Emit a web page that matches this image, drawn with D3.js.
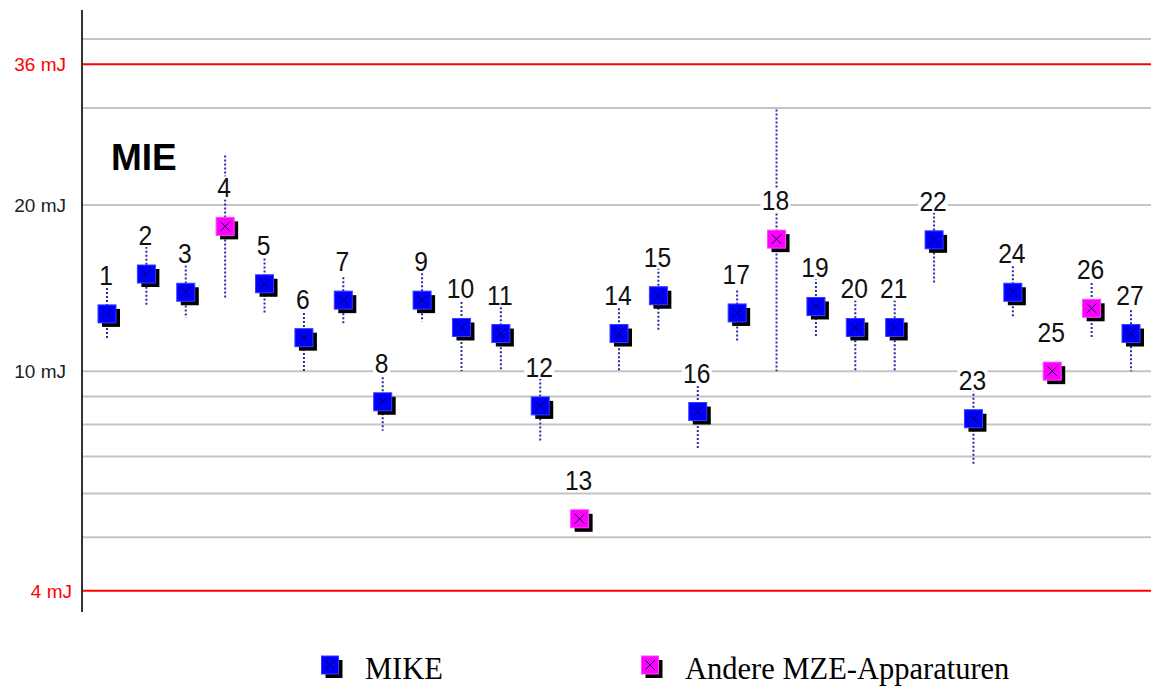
<!DOCTYPE html>
<html>
<head>
<meta charset="utf-8">
<script src="https://cdn.jsdelivr.net/npm/d3@7/dist/d3.min.js"></script>
<style>
  html, body { margin: 0; padding: 0; background: #fff; }
  svg { display: block; }
</style>
</head>
<body>
<svg id="chart" width="1151" height="686"></svg>
<script>
// ---- data ----
const categories = ["1","2","3","4","5","6","7","8","9","10","11","12","13","14","15","16","17","18","19","20","21","22","23","24","25","26","27"];
const mieValues = [12.7,15.0,13.9,18.3,14.4,11.5,13.45,8.8,13.45,12.0,11.7,8.65,5.4,11.7,13.7,8.45,12.75,17.35,13.1,12.0,12.0,17.3,8.2,13.9,10.0,13.0,11.7];
const lowValues = [11.4,13.2,12.5,13.6,12.75,10,12.2,7.8,12.3,10,10,7.45,null,10,11.8,7.25,11.35,10,11.5,10,10,14.45,6.75,12.5,null,11.5,10];
const highValues = [14.15,16.8,15.8,24.6,16.0,12.75,14.8,9.75,15.05,13.35,13.05,9.7,null,13.0,15.4,9.4,14.0,29.8,14.75,13.45,13.45,19.4,9.25,15.5,null,14.45,12.9];
const groups = ["MIKE","MIKE","MIKE","Andere","MIKE","MIKE","MIKE","MIKE","MIKE","MIKE","MIKE","MIKE","Andere","MIKE","MIKE","MIKE","MIKE","Andere","MIKE","MIKE","MIKE","MIKE","MIKE","MIKE","Andere","Andere","MIKE"];
const seriesNames = ["MIKE","Andere"];
const seriesLabels = ["MIKE","Andere MZE-Apparaturen"];
const seriesColors = ["#0000ff","#ff00ff"];
const gridValues = [5,6,7,8,9,10,20,30,40];
const limitValues = [4,36];
const tickValues = [4,10,20,36];
const tickLabels = ["4 mJ","10 mJ","20 mJ","36 mJ"];
const title = "MIE";

// ---- scales ----
const svg = d3.select("#chart");
const axisX = 82;
const x = d3.scalePoint().domain(categories).range([107, 1131]);
const y = d3.scaleLog().domain([4, 40]).range([590.7, 39]);
const color = d3.scaleOrdinal().domain(seriesNames).range(seriesColors);

const data = categories.map((c, i) => ({
  id: c, v: mieValues[i], lo: lowValues[i], hi: highValues[i], g: groups[i]
}));

// gridlines
svg.append("g").selectAll("line").data(gridValues).join("line")
  .attr("x1", axisX).attr("x2", 1151)
  .attr("y1", d => y(d)).attr("y2", d => y(d))
  .attr("stroke", "#c4c4c4").attr("stroke-width", 2);

// limit lines
svg.append("g").selectAll("line").data(limitValues).join("line")
  .attr("x1", axisX).attr("x2", 1151)
  .attr("y1", d => y(d)).attr("y2", d => y(d))
  .attr("stroke", "#ff0000").attr("stroke-width", 2);

// y axis
const yAxis = d3.axisLeft(y).tickValues(tickValues).tickSize(0).tickPadding(16)
  .tickFormat((d, i) => tickLabels[i]);
const ag = svg.append("g").attr("transform", `translate(${axisX},0)`).call(yAxis);
ag.select(".domain").remove();
ag.selectAll(".tick text")
  .attr("font-family", "Liberation Sans, Arial, sans-serif")
  .attr("font-size", 19)
  .attr("fill", d => limitValues.includes(d) ? "#ff0000" : "#222")
  .attr("dy", "0.35em")
  .attr("x", d => d === 4 ? -10 : -16);

// axis line
svg.append("line")
  .attr("x1", axisX).attr("x2", axisX).attr("y1", 10).attr("y2", 612)
  .attr("stroke", "#333").attr("stroke-width", 2);

// title
svg.append("text").attr("x", 111).attr("y", 170)
  .attr("font-family", "Liberation Sans, Arial, sans-serif")
  .attr("font-weight", "bold").attr("font-size", 37)
  .attr("fill", "#000").text(title);

// whiskers
svg.append("g").selectAll("line").data(data.filter(d => d.lo != null)).join("line")
  .attr("x1", d => x(d.id)).attr("x2", d => x(d.id))
  .attr("y1", d => y(d.hi)).attr("y2", d => y(d.lo))
  .attr("stroke", "#2a2aa8").attr("stroke-width", 2)
  .attr("stroke-dasharray", "2,2");

// labels with white background
const lg = svg.append("g").selectAll("g").data(data).join("g")
  .attr("transform", d => `translate(${x(d.id) - 1},${y(d.v) - 29})`);
lg.append("rect")
  .attr("x", d => -(d.id.length * 13) / 2 - 2)
  .attr("y", -21).attr("width", d => d.id.length * 13 + 4).attr("height", 23)
  .attr("fill", "#fff");
lg.append("text")
  .attr("text-anchor", "middle")
  .attr("transform", "scale(0.88,1)")
  .attr("font-family", "Liberation Sans, Arial, sans-serif")
  .attr("font-size", 28).attr("fill", "#111")
  .text(d => d.id);

// markers
function drawMarker(sel, cx, cy, fill, w, h) {
  sel.append("rect").attr("x", cx - w / 2 + 4).attr("y", cy - h / 2 + 4)
    .attr("width", w).attr("height", h).attr("fill", "#000");
  sel.append("rect").attr("x", cx - w / 2).attr("y", cy - h / 2)
    .attr("width", w).attr("height", h).attr("fill", fill)
    .attr("stroke", fill === "#0000ff" ? "#3b3bff" : "#ff44ff").attr("stroke-width", 1);
  sel.append("path")
    .attr("d", `M${cx - 5},${cy - 5}L${cx + 5},${cy + 5}M${cx + 5},${cy - 5}L${cx - 5},${cy + 5}`)
    .attr("stroke", "#000050").attr("stroke-width", 1).attr("fill", "none");
}
const mg = svg.append("g");
data.forEach(d => {
  drawMarker(mg.append("g"), x(d.id), y(d.v), color(d.g), 18, 18);
});

// legend
const legendX = [330, 650];
const leg = svg.append("g");
seriesNames.forEach((s, i) => {
  drawMarker(leg.append("g"), legendX[i], 665, color(s), 17, 18);
  leg.append("text").attr("x", legendX[i] + 35).attr("y", 678.5)
    .attr("font-family", "Liberation Serif, Times New Roman, serif")
    .attr("font-size", 30.5).attr("fill", "#000")
    .text(seriesLabels[i]);
});
</script>
</body>
</html>
